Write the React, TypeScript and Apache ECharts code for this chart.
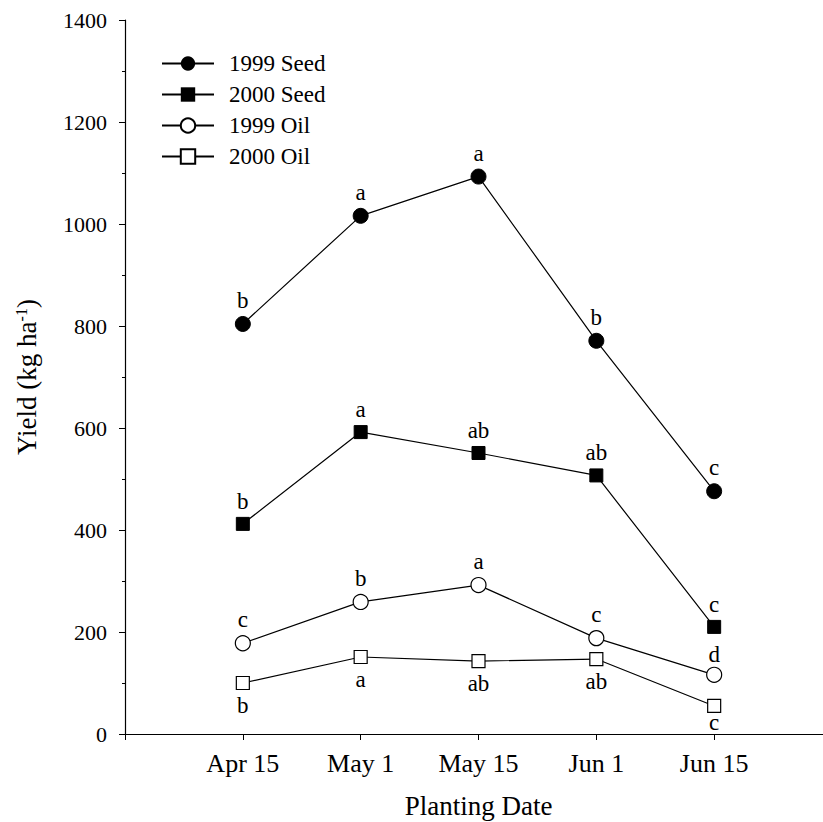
import React, { useEffect, useRef } from "react";
import * as echarts from "echarts";

const categories = ["Apr 15", "May 1", "May 15", "Jun 1", "Jun 15"];
const seed1999 = [804, 1016, 1093, 771, 476];
const seed2000 = [412, 592, 551, 507, 210];
const oil1999 = [178, 259, 292, 188, 116];
const oil2000 = [100, 151, 143, 147, 55];
const letters1999Seed = ["b", "a", "a", "b", "c"];
const letters2000Seed = ["b", "a", "ab", "ab", "c"];
const letters1999Oil = ["c", "b", "a", "c", "d"];
const letters2000Oil = ["b", "a", "ab", "ab", "c"];
const yTicks = [0, 200, 400, 600, 800, 1000, 1200, 1400];

const FONT = "'Liberation Serif', 'Times New Roman', serif";

function buildData(values: number[], letters: string[], pos: "top" | "bottom", distances?: number[]) {
  return values.map((v, i) => ({
    value: [i + 1, v],
    label: {
      show: true,
      position: pos,
      formatter: letters[i],
      distance: distances ? distances[i] : 4,
    },
  }));
}

export default function App() {
  const ref = useRef<HTMLDivElement>(null);
  useEffect(() => {
    if (!ref.current) return;
    const chart = echarts.init(ref.current, undefined, { renderer: "svg" });
    const lineStyle = { color: "#000", width: 1.2 };
    const labelStyle = { color: "#000", fontFamily: FONT, fontSize: 23 };
    const common = {
      type: "line" as const,
      xAxisIndex: 0,
      yAxisIndex: 0,
      lineStyle,
      label: labelStyle,
      emphasis: { disabled: true },
    };
    chart.setOption({
      animation: false,
      backgroundColor: "#fff",
      textStyle: { fontFamily: FONT, color: "#000" },
      grid: { left: 125, right: -9, top: 20, bottom: 88, containLabel: false, outerBoundsMode: "none" },
      legend: {
        orient: "vertical",
        left: 156,
        top: 47,
        padding: 5,
        itemWidth: 52,
        itemHeight: 18,
        itemGap: 8,
        selectedMode: false,
        textStyle: { fontFamily: FONT, fontSize: 23, color: "#000", padding: [0, 0, 0, 10] },
        data: ["1999 Seed", "2000 Seed", "1999 Oil", "2000 Oil"],
      },
      xAxis: [
        {
          type: "value",
          position: "bottom",
          min: 0,
          max: 6,
          interval: 1,
          name: "Planting Date",
          nameLocation: "middle",
          nameGap: 58,
          nameTextStyle: { fontFamily: FONT, fontSize: 27, color: "#000" },
          axisLine: { show: true, onZero: false, lineStyle: { color: "#000", width: 1.2 } },
          axisTick: { show: true, length: 6, lineStyle: { color: "#000" } },
          axisLabel: {
            margin: 16,
            fontFamily: FONT,
            fontSize: 26,
            color: "#000",
            showMinLabel: true,
            showMaxLabel: true,
            formatter: (v: number) => (v >= 1 && v <= 5 ? categories[v - 1] : ""),
          },
          splitLine: { show: false },
        },
        {
          type: "value",
          position: "top",
          min: 0,
          max: 6,
          axisLine: { show: true, lineStyle: { color: "#000", width: 1.2 } },
          axisTick: { show: false },
          axisLabel: { show: false },
          splitLine: { show: false },
        },
      ],
      yAxis: {
        type: "value",
        min: 0,
        max: 1400,
        interval: 200,
        name: "Yield (kg ha{sup|-1})",
        nameLocation: "middle",
        nameGap: 85,
        nameTextStyle: {
          fontFamily: FONT,
          fontSize: 27,
          color: "#000",
          rich: {
            sup: { fontFamily: FONT, fontSize: 16, color: "#000", verticalAlign: "top", lineHeight: 27 },
          },
        },
        axisLine: { show: true, lineStyle: { color: "#000", width: 1.2 } },
        axisTick: { show: true, length: 6, lineStyle: { color: "#000" } },
        minorTick: { show: true, splitNumber: 2, length: 3, lineStyle: { color: "#000" } },
        axisLabel: {
          margin: 18,
          fontFamily: FONT,
          fontSize: 22,
          color: "#000",
          formatter: (v: number) => (yTicks.includes(v) ? String(v) : ""),
        },
        splitLine: { show: false },
        minorSplitLine: { show: false },
      },
      series: [
        {
          ...common,
          name: "1999 Seed",
          symbol: "circle",
          symbolSize: 15,
          itemStyle: { color: "#000", borderColor: "#000" },
          data: buildData(seed1999, letters1999Seed, "top"),
          z: 4,
        },
        {
          ...common,
          name: "2000 Seed",
          symbol: "rect",
          symbolSize: 13,
          itemStyle: { color: "#000", borderColor: "#000" },
          data: buildData(seed2000, letters2000Seed, "top"),
          z: 3,
        },
        {
          ...common,
          name: "1999 Oil",
          symbol: "circle",
          symbolSize: 15,
          itemStyle: { color: "#fff", borderColor: "#000", borderWidth: 1.2 },
          data: buildData(oil1999, letters1999Oil, "top", [4, 4, 4, 4, 1]),
          z: 2,
        },
        {
          ...common,
          name: "2000 Oil",
          symbol: "rect",
          symbolSize: 13,
          itemStyle: { color: "#fff", borderColor: "#000", borderWidth: 1.2 },
          data: buildData(oil2000, letters2000Oil, "bottom", [4, 4, 4, 4, -2]),
          z: 1,
        },
      ],
    });
    return () => chart.dispose();
  }, []);
  return <div ref={ref} style={{ width: 823, height: 822, position: "absolute", left: 0, top: 0 }} />;
}
